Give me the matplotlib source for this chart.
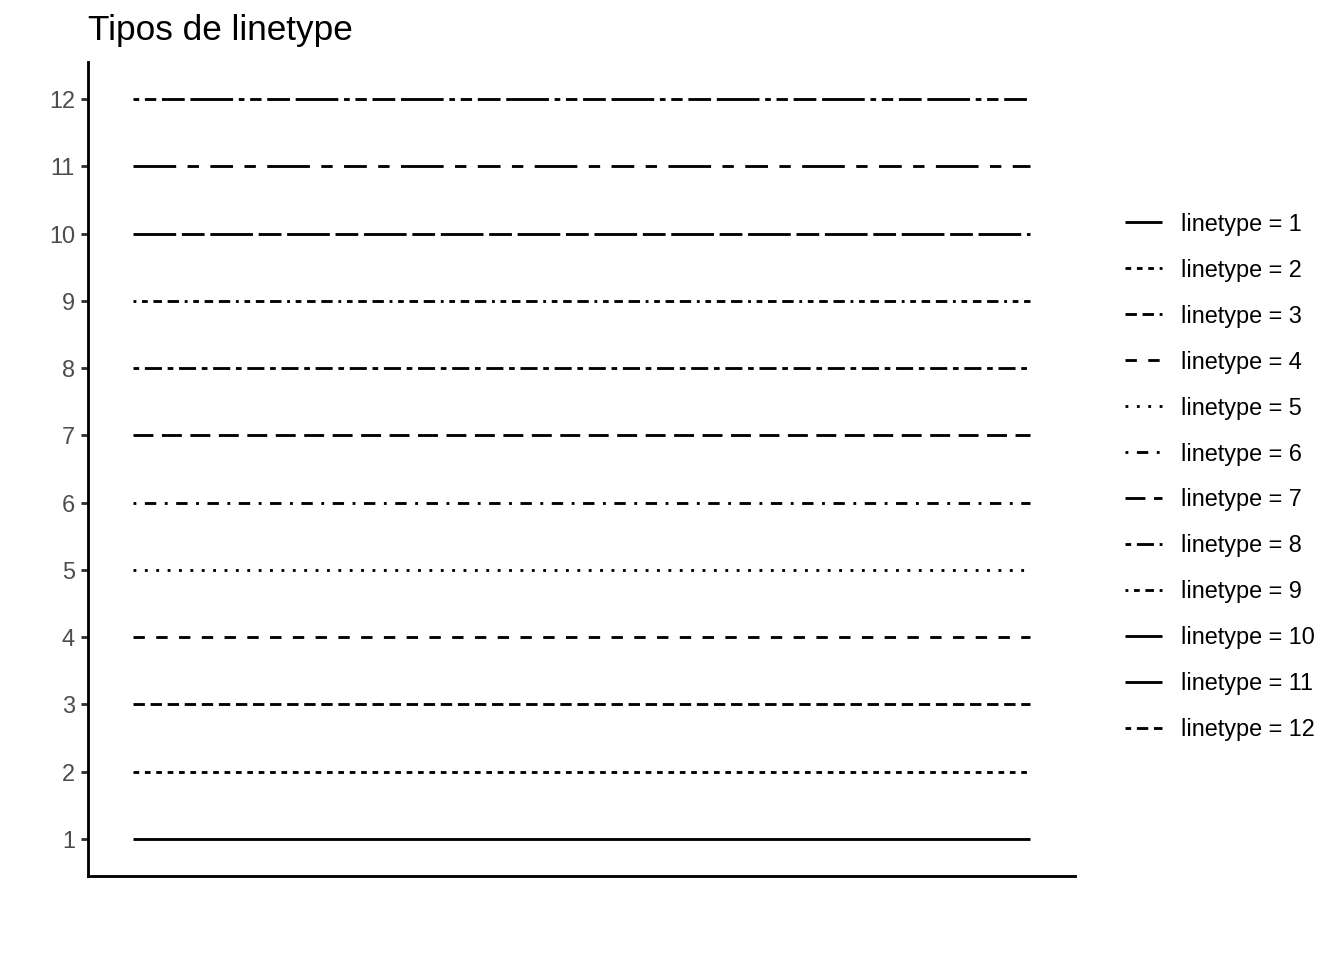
import matplotlib
matplotlib.use("Agg")
import matplotlib.pyplot as plt

# linetype ids shown on the y axis and in the legend
linetypes = list(range(1, 13))
labels = [f"linetype = {lt}" for lt in linetypes]
x_span = [0, 1]

# R-style hex dash strings (units of line width), one per linetype
LTY_HEX = {
    1: None, 2: "22", 3: "42", 4: "44", 5: "13", 6: "1343",
    7: "73", 8: "2262", 9: "12223242", 10: "F282", 11: "F4448444", 12: "224282F2",
}


def hex_dashes(code):
    if code is None:
        return None
    return [int(c, 16) for c in code]


plt.rcParams["font.family"] = ["Liberation Sans", "DejaVu Sans"]
plt.rcParams["lines.scale_dashes"] = True

LW = 1.067  # ggplot size 0.5 in points
fig = plt.figure(figsize=(7, 5), dpi=192)
ax = fig.add_axes([88 / 1344, 84 / 960, (1075 - 88) / 1344, (876 - 62) / 960])

handles = []
for lt, lab in zip(linetypes, labels):
    (ln,) = ax.plot(x_span, [lt, lt], color="black", lw=LW, label=lab,
                    solid_capstyle="butt", dash_capstyle="butt")
    d = hex_dashes(LTY_HEX[lt])
    if d:
        ln.set_dashes(d)
    handles.append(ln)

ax.set_xlim(-0.05, 1.05)
ax.set_ylim(1 - 0.55, 12 + 0.55)
ax.set_xticks([])
ax.set_yticks(linetypes)
ax.set_yticklabels([str(v) for v in linetypes])
ax.tick_params(axis="y", length=7.3 * 72 / 192, width=LW, color="#333333",
               labelcolor="#4D4D4D", labelsize=8.8, pad=2.2)
for side in ("top", "right"):
    ax.spines[side].set_visible(False)
for side in ("left", "bottom"):
    ax.spines[side].set_linewidth(LW)
    ax.spines[side].set_color("black")

fig.text(88 / 1344, 1 - 40 / 960, "Tipos de linetype", fontsize=13.2,
         ha="left", va="baseline")

fig.legend(handles=handles, labels=labels, loc="center left",
           bbox_to_anchor=(1125 / 1344, 1 - 477 / 960), frameon=False,
           fontsize=8.8, handlelength=1.58, handletextpad=0.81,
           labelspacing=0.98, borderpad=0, borderaxespad=0)

fig.savefig("out.png", dpi=192)
